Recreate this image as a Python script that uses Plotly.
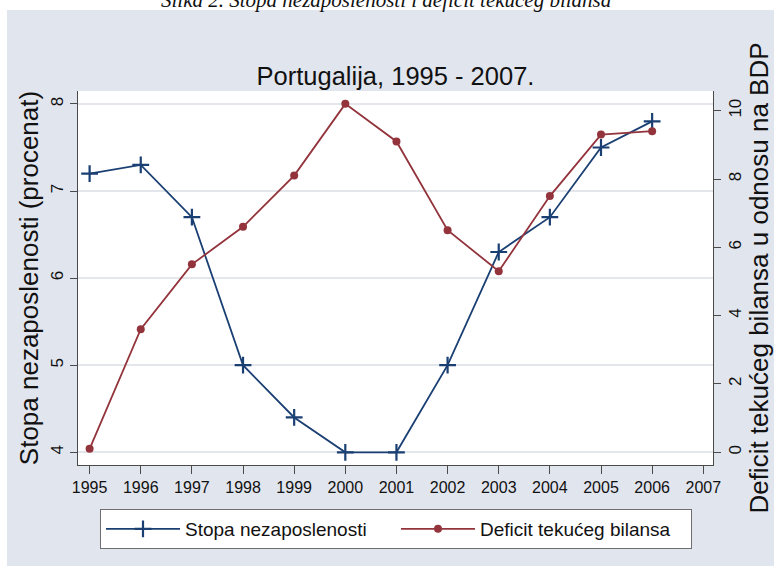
import plotly.graph_objects as go

years = [1995, 1996, 1997, 1998, 1999, 2000, 2001, 2002, 2003, 2004, 2005, 2006]
unemployment = [7.2, 7.3, 6.7, 5.0, 4.4, 4.0, 4.0, 5.0, 6.3, 6.7, 7.5, 7.8]
deficit = [0.1, 3.6, 5.5, 6.6, 8.1, 10.2, 9.1, 6.5, 5.3, 7.5, 9.3, 9.4]
x_ticks = list(range(1995, 2008))
left_ticks = [4, 5, 6, 7, 8]
right_ticks = [0, 2, 4, 6, 8, 10]

title_text = "Portugalija, 1995 - 2007."
caption_text = "Slika 2. Stopa nezaposlenosti i deficit tekućeg bilansa"
left_title = "Stopa nezaposlenosti (procenat)"
right_title = "Deficit tekućeg bilansa u odnosu na BDP"
name_u = "Stopa nezaposlenosti"
name_d = "Deficit tekućeg bilansa"

BLUE = "#1a3f73"
RED = "#93343c"
PANEL = "#e1e5ee"
FONT = "Liberation Sans, Arial, sans-serif"

W, H = 774, 566
L, R, T, B = 78, 61, 91, 101
pw = W - L - R
ph = H - T - B

def px(pix):
    return (pix - L) / pw

def py(pix):
    return (H - B - pix) / ph

fig = go.Figure()
fig.add_trace(go.Scatter(
    x=years, y=unemployment, name=name_u, mode="lines+markers",
    line=dict(color=BLUE, width=1.8),
    marker=dict(symbol="cross-thin", size=12, color=BLUE, line=dict(color=BLUE, width=2.2)),
    yaxis="y"))
fig.add_trace(go.Scatter(
    x=years, y=deficit, name=name_d, mode="lines+markers",
    line=dict(color=RED, width=1.8),
    marker=dict(symbol="circle", size=8, color=RED),
    yaxis="y2"))

fig.update_layout(
    template="none",
    width=W, height=H, autosize=False,
    margin=dict(l=L, r=R, t=T, b=B, pad=0, autoexpand=False),
    paper_bgcolor=PANEL, plot_bgcolor="white",
    font=dict(family=FONT, color="#111111"),
    title=dict(text=title_text, x=0.5, xref="paper", y=1 - 76 / H, yref="container",
               yanchor="middle", xanchor="center", font=dict(size=25.5, color="#111111")),
    xaxis=dict(range=[1994.773, 2007.19], tickvals=x_ticks, ticktext=[str(v) for v in x_ticks],
               showgrid=False, zeroline=False, showline=True, linecolor="#4a4a4a", linewidth=1,
               ticks="outside", ticklen=8, tickcolor="#4a4a4a", tickfont=dict(size=16),
               automargin=False),
    yaxis=dict(range=[3.854, 8.149], tickvals=left_ticks, showgrid=True, gridcolor="#e3e6eb",
               gridwidth=1.5, zeroline=False, showline=True, linecolor="#4a4a4a", linewidth=1,
               ticks="outside", ticklen=7, tickcolor="#4a4a4a", tickangle=-90,
               tickfont=dict(size=17), automargin=False,
               title=dict(text=left_title, font=dict(size=26), standoff=2)),
    yaxis2=dict(range=[-0.375, 10.577], tickvals=right_ticks, overlaying="y", side="right",
                anchor="x", showgrid=False, zeroline=False, showline=True, linecolor="#4a4a4a",
                linewidth=1, ticks="outside", ticklen=7, tickcolor="#4a4a4a", tickangle=-90,
                tickfont=dict(size=17), automargin=False,
                title=dict(text=right_title, font=dict(size=26), standoff=8)),
    legend=dict(orientation="h", x=px(396), xanchor="center",
                y=py(509), yanchor="top", bgcolor="white", bordercolor="#6e6e6e", borderwidth=1,
                font=dict(size=19), entrywidth=206, itemwidth=74),
    showlegend=True,
)

# white strips outside the panel (top and left)
fig.add_shape(type="rect", xref="paper", yref="paper",
              x0=px(-5), x1=px(W + 5), y0=py(10), y1=py(-5),
              fillcolor="white", line=dict(width=0), layer="below")
fig.add_shape(type="rect", xref="paper", yref="paper",
              x0=px(-5), x1=px(7), y0=py(H + 5), y1=py(-5),
              fillcolor="white", line=dict(width=0), layer="below")

fig.add_annotation(text=caption_text, xref="paper", yref="paper",
                   x=px(386), y=py(0), xanchor="center", yanchor="middle",
                   showarrow=False,
                   font=dict(family="Liberation Serif, Times New Roman, serif", size=21,
                             color="#111111", style="italic"))

fig.write_html("out.html", config={"displayModeBar": False},
               post_script=("document.body.style.margin='0px';"
                            "document.body.style.overflow='hidden';"
                            "document.body.style.background='" + PANEL + "';"
                            "document.documentElement.style.background='" + PANEL + "';"))
